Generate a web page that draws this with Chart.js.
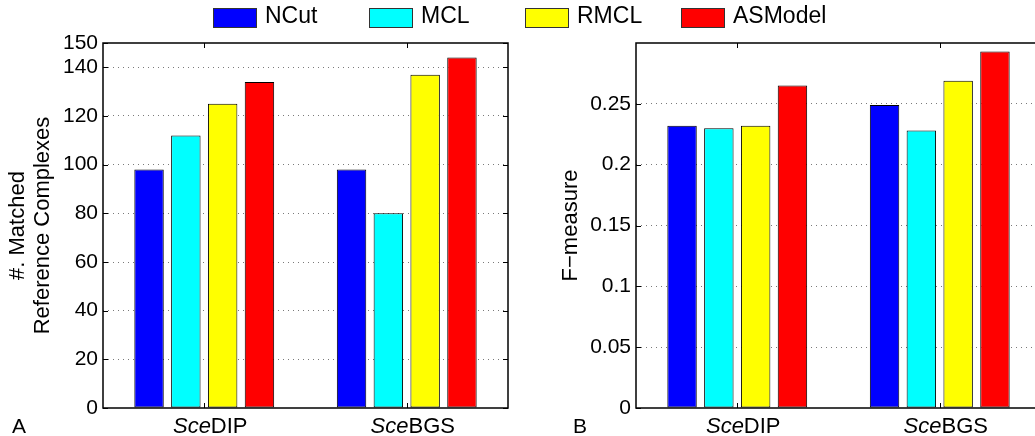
<!DOCTYPE html>
<html>
<head>
<meta charset="utf-8">
<script src="https://cdn.jsdelivr.net/npm/chart.js@4"></script>
<style>
  html, body { margin: 0; padding: 0; background: #fff; overflow: hidden; }
  #page { position: relative; width: 1035px; height: 436px; overflow: hidden; font-family: "Liberation Sans", Arial, sans-serif; }
  #wrapA { position: absolute; left: 0; top: 0; width: 520px; height: 436px; }
  #wrapB { position: absolute; left: 520px; top: 0; width: 525px; height: 436px; }
  #legend { position: absolute; left: 213px; top: 0; height: 36px; display: flex; }
  .item { width: 156px; display: flex; align-items: flex-start; }
  .swatch { width: 42px; height: 18px; border: 1px solid #333; margin-top: 8px; margin-right: 8px; }
  .label { font-size: 23px; line-height: 30px; color: #000; }
</style>
</head>
<body>
<div id="page">
  <div id="wrapA"><canvas id="chartA" width="520" height="436"></canvas></div>
  <div id="wrapB"><canvas id="chartB" width="525" height="436"></canvas></div>
  <div id="legend"></div>
</div>
<script>
// ---------- DATA ----------
const categories = ["SceDIP", "SceBGS"];
const italicPrefix = "Sce";
const seriesNames = ["NCut", "MCL", "RMCL", "ASModel"];
const seriesColors = ["#0000ff", "#00ffff", "#ffff00", "#ff0000"];

// panel A: #. matched reference complexes
const matchedNCut = [98, 98];
const matchedMCL = [112, 80];
const matchedRMCL = [125, 137];
const matchedASModel = [134, 144];
const ticksA = [0, 20, 40, 60, 80, 100, 120, 140, 150];

// panel B: F-measure
const fNCut = [0.232, 0.249];
const fMCL = [0.230, 0.228];
const fRMCL = [0.232, 0.269];
const fASModel = [0.265, 0.293];
const ticksB = [0, 0.05, 0.1, 0.15, 0.2, 0.25];

const FONT = "'Liberation Sans', Arial, Helvetica, sans-serif";
Chart.defaults.font.family = FONT;
Chart.defaults.color = "#000";

// ---------- LEGEND (html) ----------
const legend = document.getElementById("legend");
seriesNames.forEach(function (name, i) {
  const item = document.createElement("div");
  item.className = "item";
  const sw = document.createElement("div");
  sw.className = "swatch";
  sw.style.background = seriesColors[i];
  const lb = document.createElement("div");
  lb.className = "label";
  lb.textContent = name;
  item.appendChild(sw);
  item.appendChild(lb);
  legend.appendChild(item);
});

// frame, inward tick marks, mixed-style x labels, panel letter
const framePlugin = {
  id: "frame",
  afterDatasetsDraw(chart, args, opts) {
    const { ctx, chartArea: a, scales } = chart;
    const x = scales.x, y = scales.y;
    ctx.save();
    ctx.strokeStyle = "#000";
    ctx.lineWidth = 1;
    function seg(x1, y1, x2, y2) {
      ctx.beginPath(); ctx.moveTo(x1, y1); ctx.lineTo(x2, y2); ctx.stroke();
    }
    y.ticks.forEach(function (t) {
      const py = Math.round(y.getPixelForValue(t.value)) + 0.5;
      seg(a.left, py, a.left + 5, py);
      seg(a.right, py, a.right - 5, py);
    });
    x.ticks.forEach(function (t, i) {
      const px = Math.round(x.getPixelForTick(i)) + 0.5;
      seg(px, a.bottom, px, a.bottom - 5);
      seg(px, a.top, px, a.top + 5);
    });
    ctx.lineWidth = 1.5;
    ctx.strokeRect(a.left, a.top, a.right - a.left, a.bottom - a.top);

    // category labels: italic prefix + upright rest
    ctx.fillStyle = "#000";
    ctx.textBaseline = "alphabetic";
    ctx.textAlign = "left";
    const base = a.bottom + 24.5;
    chart.data.labels.forEach(function (lab, i) {
      const pre = lab.startsWith(italicPrefix) ? italicPrefix : "";
      const rest = lab.slice(pre.length);
      ctx.font = "italic 22px " + FONT;
      const w1 = ctx.measureText(pre).width;
      ctx.font = "22px " + FONT;
      const w2 = ctx.measureText(rest).width;
      let sx = x.getPixelForTick(i) - (w1 + w2) / 2 + 6;
      ctx.font = "italic 22px " + FONT;
      ctx.fillText(pre, sx, base);
      ctx.font = "22px " + FONT;
      ctx.fillText(rest, sx + w1, base);
    });
    ctx.font = "21px " + FONT;
    ctx.fillText(opts.letter, opts.letterX, base);
    ctx.restore();
  }
};

function makeDatasets(values) {
  return seriesNames.map(function (name, i) {
    return {
      label: name,
      data: values[i],
      backgroundColor: seriesColors[i],
      borderColor: "#000",
      borderWidth: 1,
      borderSkipped: false,
      categoryPercentage: 0.727,
      barPercentage: 0.8
    };
  });
}

function makeConfig(values, tickList, yMax, title, titlePad, yWidth, rightPad, letter, letterX, fmt) {
  return {
    type: "bar",
    data: { labels: categories, datasets: makeDatasets(values) },
    plugins: [framePlugin],
    options: {
      responsive: false,
      animation: false,
      layout: { padding: { top: 43, right: rightPad, left: 0, bottom: 0 } },
      plugins: {
        legend: { display: false },
        tooltip: { enabled: false },
        frame: { letter: letter, letterX: letterX }
      },
      scales: {
        x: {
          grid: { display: false },
          border: { display: false },
          ticks: { display: false },
          afterFit: function (s) { s.height = 28; }
        },
        y: {
          min: 0,
          max: yMax,
          afterBuildTicks: function (s) {
            s.ticks = tickList.map(function (v) { return { value: v }; });
          },
          afterFit: function (s) { s.width = yWidth; },
          grid: {
            drawTicks: false,
            lineWidth: 1,
            color: function (c) {
              const v = c.tick ? c.tick.value : 0;
              return (v === 0 || v === yMax) ? "rgba(0,0,0,0)" : "#7a7a7a";
            }
          },
          border: { display: false, dash: [1, 4] },
          ticks: {
            font: { size: 21 },
            color: "#000",
            padding: 5,
            callback: fmt
          },
          title: {
            display: true,
            text: title,
            color: "#000",
            font: { size: 22, lineHeight: 1.14 },
            padding: { top: titlePad, bottom: 0 }
          }
        }
      }
    }
  };
}

try {
  new Chart(document.getElementById("chartA"), makeConfig(
    [matchedNCut, matchedMCL, matchedRMCL, matchedASModel],
    ticksA, 150, ["#. Matched", "Reference Complexes"], 5.5, 103, 12, "A", 12,
    function (v) { return String(v); }
  ));
  new Chart(document.getElementById("chartB"), makeConfig(
    [fNCut, fMCL, fRMCL, fASModel],
    ticksB, 0.3, "F\u2212measure", 38.5, 116, 4, "B", 53,
    function (v) { return String(Math.round(v * 100) / 100); }
  ));
} catch (err) {
  console.error("Error creating Chart:", err);
}
</script>
</body>
</html>
